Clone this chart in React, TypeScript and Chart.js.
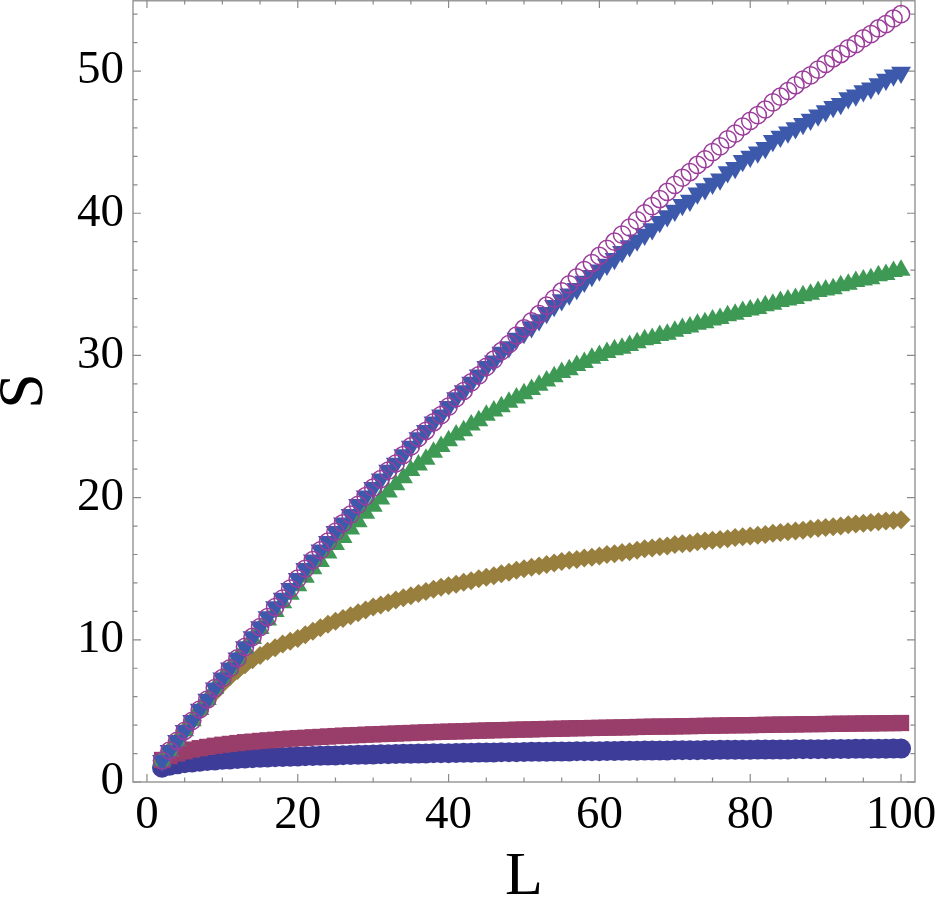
import React, { useEffect, useRef } from 'react';
import { Chart, registerables } from 'chart.js';

Chart.register(...registerables);

const L = [
  2, 3, 4, 5, 6, 7, 8, 9, 10, 11,
  12, 13, 14, 15, 16, 17, 18, 19, 20, 21,
  22, 23, 24, 25, 26, 27, 28, 29, 30, 31,
  32, 33, 34, 35, 36, 37, 38, 39, 40, 41,
  42, 43, 44, 45, 46, 47, 48, 49, 50, 51,
  52, 53, 54, 55, 56, 57, 58, 59, 60, 61,
  62, 63, 64, 65, 66, 67, 68, 69, 70, 71,
  72, 73, 74, 75, 76, 77, 78, 79, 80, 81,
  82, 83, 84, 85, 86, 87, 88, 89, 90, 91,
  92, 93, 94, 95, 96, 97, 98, 99, 100,
];

// series 1: filled circles
const S1 = [
  1.00, 1.14, 1.24, 1.32, 1.38, 1.43, 1.48, 1.52, 1.56, 1.59,
  1.62, 1.65, 1.67, 1.70, 1.72, 1.74, 1.76, 1.78, 1.79, 1.81,
  1.83, 1.84, 1.86, 1.87, 1.89, 1.90, 1.91, 1.92, 1.93, 1.95,
  1.96, 1.97, 1.98, 1.99, 2.00, 2.01, 2.02, 2.02, 2.03, 2.04,
  2.05, 2.06, 2.07, 2.07, 2.08, 2.09, 2.10, 2.10, 2.11, 2.12,
  2.12, 2.13, 2.14, 2.14, 2.15, 2.16, 2.16, 2.17, 2.17, 2.18,
  2.18, 2.19, 2.20, 2.20, 2.21, 2.21, 2.22, 2.22, 2.23, 2.23,
  2.24, 2.24, 2.25, 2.25, 2.26, 2.26, 2.26, 2.27, 2.27, 2.28,
  2.28, 2.29, 2.29, 2.29, 2.30, 2.30, 2.31, 2.31, 2.31, 2.32,
  2.32, 2.32, 2.33, 2.33, 2.34, 2.34, 2.34, 2.35, 2.35,
];

// series 2: filled squares
const S2 = [
  1.55, 1.82, 2.01, 2.16, 2.28, 2.38, 2.47, 2.55, 2.62, 2.68,
  2.74, 2.80, 2.84, 2.89, 2.93, 2.97, 3.01, 3.05, 3.08, 3.11,
  3.14, 3.17, 3.20, 3.23, 3.26, 3.28, 3.30, 3.33, 3.35, 3.37,
  3.39, 3.41, 3.43, 3.45, 3.47, 3.49, 3.51, 3.53, 3.54, 3.56,
  3.57, 3.59, 3.61, 3.62, 3.64, 3.65, 3.66, 3.68, 3.69, 3.70,
  3.72, 3.73, 3.74, 3.75, 3.77, 3.78, 3.79, 3.80, 3.81, 3.82,
  3.83, 3.84, 3.85, 3.87, 3.88, 3.89, 3.90, 3.90, 3.91, 3.92,
  3.93, 3.94, 3.95, 3.96, 3.97, 3.98, 3.99, 3.99, 4.00, 4.01,
  4.02, 4.03, 4.04, 4.04, 4.05, 4.06, 4.07, 4.07, 4.08, 4.09,
  4.10, 4.10, 4.11, 4.12, 4.12, 4.13, 4.14, 4.14, 4.15,
];

// series 3: diamonds
const S3 = [
  1.5, 2.2, 2.9, 3.6, 4.3, 5.0, 5.7, 6.3, 6.9, 7.4,
  7.85, 8.25, 8.6, 8.9, 9.2, 9.45, 9.7, 9.9, 10.1, 10.35,
  10.6, 10.85, 11.1, 11.3, 11.5, 11.7, 11.9, 12.1, 12.3, 12.45,
  12.6, 12.8, 12.95, 13.1, 13.25, 13.4, 13.55, 13.7, 13.8, 13.9,
  14.05, 14.15, 14.3, 14.4, 14.5, 14.65, 14.75, 14.9, 15.0, 15.1,
  15.2, 15.3, 15.4, 15.5, 15.6, 15.65, 15.75, 15.8, 15.9, 16.0,
  16.05, 16.15, 16.2, 16.3, 16.4, 16.45, 16.55, 16.6, 16.7, 16.75,
  16.8, 16.9, 16.95, 17.0, 17.05, 17.1, 17.2, 17.25, 17.3, 17.35,
  17.4, 17.5, 17.55, 17.6, 17.65, 17.7, 17.8, 17.85, 17.9, 17.95,
  18.0, 18.1, 18.15, 18.2, 18.25, 18.3, 18.35, 18.4, 18.45,
];

// series 4: up triangles
const S4 = [
  1.5, 2.2, 2.9, 3.6, 4.3, 5.1, 5.8, 6.6, 7.3, 8.0,
  8.7, 9.4, 10.1, 10.8, 11.4, 12.0, 12.6, 13.2, 13.8, 14.4,
  15.0, 15.5, 16.1, 16.7, 17.2, 17.8, 18.3, 18.9, 19.4, 19.9,
  20.4, 20.9, 21.4, 21.9, 22.3, 22.7, 23.2, 23.6, 24.0, 24.4,
  24.7, 25.1, 25.4, 25.8, 26.1, 26.4, 26.7, 27.0, 27.3, 27.6,
  27.9, 28.2, 28.5, 28.8, 29.0, 29.3, 29.5, 29.8, 30.0, 30.2,
  30.4, 30.5, 30.7, 30.9, 31.1, 31.2, 31.4, 31.5, 31.7, 31.9,
  32.0, 32.2, 32.3, 32.5, 32.6, 32.8, 32.9, 33.1, 33.2, 33.3,
  33.5, 33.6, 33.8, 33.9, 34.0, 34.2, 34.3, 34.5, 34.6, 34.7,
  34.9, 35.0, 35.2, 35.3, 35.4, 35.6, 35.7, 35.9, 36.0,
];

// series 5: down triangles
const S5 = [
  1.5, 2.2, 2.9, 3.6, 4.3, 5.1, 5.8, 6.6, 7.3, 8.0,
  8.7, 9.5, 10.2, 10.9, 11.6, 12.3, 12.9, 13.6, 14.3, 15.0,
  15.6, 16.3, 16.9, 17.6, 18.2, 18.8, 19.5, 20.1, 20.7, 21.3,
  21.9, 22.4, 23.0, 23.6, 24.2, 24.7, 25.3, 25.8, 26.4, 27.0,
  27.5, 28.1, 28.6, 29.2, 29.6, 30.2, 30.6, 31.2, 31.6, 32.0,
  32.5, 33.0, 33.5, 33.9, 34.3, 34.7, 35.2, 35.6, 36.0, 36.4,
  36.8, 37.3, 37.7, 38.1, 38.5, 38.9, 39.4, 39.8, 40.2, 40.6,
  40.9, 41.4, 41.7, 42.1, 42.4, 42.9, 43.2, 43.7, 44.0, 44.3,
  44.6, 45.1, 45.4, 45.7, 46.0, 46.3, 46.6, 46.9, 47.2, 47.5,
  47.7, 48.1, 48.3, 48.6, 48.8, 49.1, 49.4, 49.7, 49.9,
];

// series 6: open circles
const S6 = [
  1.5, 2.2, 2.9, 3.6, 4.3, 5.1, 5.8, 6.6, 7.3, 8.0,
  8.7, 9.5, 10.2, 10.9, 11.6, 12.3, 12.9, 13.6, 14.3, 15.0,
  15.6, 16.3, 16.9, 17.6, 18.2, 18.8, 19.5, 20.1, 20.7, 21.3,
  21.9, 22.4, 23.0, 23.6, 24.2, 24.7, 25.3, 25.8, 26.4, 27.0,
  27.5, 28.1, 28.6, 29.2, 29.7, 30.3, 30.8, 31.4, 31.9, 32.4,
  32.9, 33.5, 34.0, 34.5, 35.0, 35.5, 36.0, 36.5, 37.0, 37.5,
  38.0, 38.5, 39.0, 39.5, 40.0, 40.5, 41.0, 41.5, 42.0, 42.5,
  42.9, 43.4, 43.8, 44.3, 44.7, 45.2, 45.6, 46.1, 46.5, 46.9,
  47.3, 47.8, 48.2, 48.6, 49.0, 49.4, 49.7, 50.1, 50.5, 50.9,
  51.2, 51.6, 51.9, 52.3, 52.6, 53.0, 53.3, 53.7, 54.0,
];

const X_TICKS = [0, 20, 40, 60, 80, 100];
const Y_TICKS = [0, 10, 20, 30, 40, 50];
const X_MINOR = [5, 10, 15, 25, 30, 35, 45, 50, 55, 65, 70, 75, 85, 90, 95];
const Y_MINOR = [2, 4, 6, 8, 12, 14, 16, 18, 22, 24, 26, 28, 32, 34, 36, 38, 42, 44, 46, 48, 52, 54];

const SERIF = '"Liberation Serif", "Times New Roman", Times, serif';
const FRAME = '#9a9a9a';

const framePlugin = {
  id: 'mmaFrame',
  beforeDatasetsDraw(chart: any) {
    const { ctx, chartArea: a, scales } = chart;
    const x = scales.x;
    const y = scales.y;
    ctx.save();
    ctx.strokeStyle = FRAME;
    ctx.lineWidth = 1.5;
    ctx.strokeRect(a.left, a.top + 0.75, a.right - a.left, a.bottom - a.top - 0.75);
    ctx.lineWidth = 1.2;
    ctx.strokeStyle = '#8a8a8a';
    const drawX = (v: number, len: number) => {
      const px = x.getPixelForValue(v);
      ctx.beginPath();
      ctx.moveTo(px, a.bottom);
      ctx.lineTo(px, a.bottom - len);
      ctx.moveTo(px, a.top);
      ctx.lineTo(px, a.top + len);
      ctx.stroke();
    };
    const drawY = (v: number, len: number) => {
      const py = y.getPixelForValue(v);
      ctx.beginPath();
      ctx.moveTo(a.left, py);
      ctx.lineTo(a.left + len, py);
      ctx.moveTo(a.right, py);
      ctx.lineTo(a.right - len, py);
      ctx.stroke();
    };
    X_TICKS.forEach((v) => drawX(v, 8));
    X_MINOR.forEach((v) => drawX(v, 4.5));
    Y_TICKS.forEach((v) => drawY(v, 8));
    Y_MINOR.forEach((v) => drawY(v, 4.5));
    ctx.restore();
  },
};

function pts(vals: number[]) {
  return L.map((l, i) => ({ x: l, y: vals[i] }));
}

function zeroPad(s: any) {
  s.paddingTop = 0;
  s.paddingBottom = 0;
  s.paddingLeft = 0;
  s.paddingRight = 0;
}

export default function App() {
  const ref = useRef<HTMLCanvasElement | null>(null);

  useEffect(() => {
    if (!ref.current) return;
    const mk = (data: number[], style: any, radius: number, fill: string, border: string, bw: number, order: number, rotation = 0) => ({
      data: pts(data),
      pointStyle: style,
      pointRadius: radius,
      pointHoverRadius: radius,
      pointRotation: rotation,
      pointBackgroundColor: fill,
      pointBorderColor: border,
      pointBorderWidth: bw,
      backgroundColor: fill,
      borderColor: border,
      showLine: false,
      clip: false as any,
      order,
    });
    const chart = new Chart(ref.current, {
      type: 'scatter',
      data: {
        datasets: [
          mk(S1, 'circle', 10, '#3d3d99', '#3d3d99', 0, 6),
          mk(S2, 'rect', 11.5, '#993d6b', '#993d6b', 0, 5),
          mk(S3, 'rectRot', 9.5, '#997f3d', '#997f3d', 0, 4),
          mk(S4, 'triangle', 11, '#3d9954', '#3d9954', 0, 3),
          mk(S5, 'triangle', 11.5, '#3d59ab', '#3d59ab', 0, 2, 180),
          mk(S6, 'circle', 8.6, 'rgba(0,0,0,0)', '#9b3d9b', 1.5, 1),
        ] as any,
      },
      options: {
        animation: false,
        responsive: true,
        maintainAspectRatio: false,
        devicePixelRatio: 1,
        events: [],
        layout: { autoPadding: false, padding: { top: 0, right: 23, left: 0, bottom: 0 } },
        plugins: { legend: { display: false }, tooltip: { enabled: false } },
        scales: {
          x: {
            type: 'linear',
            min: -1.85,
            max: 101.85,
            grid: { display: false, drawTicks: false },
            border: { display: false },
            afterBuildTicks: (s: any) => {
              s.ticks = X_TICKS.map((v) => ({ value: v }));
            },
            afterFit: (s: any) => {
              s.height = 137;
              zeroPad(s);
            },
            ticks: {
              color: '#000',
              font: { family: SERIF, size: 47 },
              padding: 5,
              maxRotation: 0,
              autoSkip: false,
            },
            title: {
              display: true,
              text: 'L',
              color: '#000',
              font: { family: SERIF, size: 62, lineHeight: 1 },
              padding: { top: 0, bottom: 10 },
            },
          },
          y: {
            type: 'linear',
            min: 0,
            max: 55,
            grid: { display: false, drawTicks: false },
            border: { display: false },
            afterBuildTicks: (s: any) => {
              s.ticks = Y_TICKS.map((v) => ({ value: v }));
            },
            afterFit: (s: any) => {
              s.width = 133;
              zeroPad(s);
            },
            ticks: {
              color: '#000',
              font: { family: SERIF, size: 47 },
              padding: 9,
              autoSkip: false,
            },
            title: {
              display: true,
              text: 'S',
              color: '#000',
              font: { family: SERIF, size: 64, lineHeight: 0.8 },
              padding: 0,
            },
          },
        },
      } as any,
      plugins: [framePlugin],
    });
    return () => chart.destroy();
  }, []);

  return (
    <div style={{ position: 'fixed', left: 0, top: 0, width: 938, height: 919, background: '#fff' }}>
      <canvas ref={ref} />
    </div>
  );
}
